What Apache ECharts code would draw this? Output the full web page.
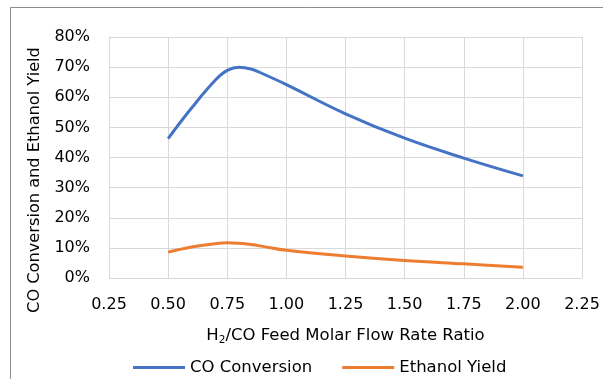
<!DOCTYPE html>
<html>
<head>
<meta charset="utf-8">
<script src="https://cdn.jsdelivr.net/npm/echarts@6/dist/echarts.min.js"></script>
<style>
  html, body { margin: 0; padding: 0; background: #fff; }
  #chart { width: 603px; height: 379px; }
</style>
</head>
<body>
<div id="chart"></div>
<script>
// H2/CO feed ratio and the resulting performance (percent)
const ratios = [0.5, 0.6, 0.7, 0.75, 0.8, 0.85, 0.9, 1.0, 1.25, 1.5, 1.75, 2.0];
const coConversion = [46.3, 56.5, 65.7, 68.9, 70.0, 69.4, 67.8, 64.2, 54.5, 46.4, 39.8, 33.9];
const ethanolYield = [8.6, 10.3, 11.4, 11.7, 11.5, 11.1, 10.5, 9.2, 7.3, 5.8, 4.7, 3.6];
const xTicks = [0.25, 0.5, 0.75, 1.0, 1.25, 1.5, 1.75, 2.0, 2.25];
const yTicks = [0, 10, 20, 30, 40, 50, 60, 70, 80];

const FONT = 'DejaVu Sans';
const gridColor = '#d9d9d9';

const chart = echarts.init(document.getElementById('chart'), null, { renderer: 'canvas' });

chart.setOption({
  animation: false,
  backgroundColor: '#fff',
  grid: { left: 109, right: 21, top: 37, bottom: 101, containLabel: false },
  xAxis: {
    type: 'value',
    min: xTicks[0],
    max: xTicks[xTicks.length - 1],
    interval: 0.25,
    axisLine: { show: true, lineStyle: { color: gridColor, width: 1 } },
    axisTick: { show: false },
    splitLine: { show: true, lineStyle: { color: gridColor, width: 1 } },
    axisLabel: {
      color: '#000', fontFamily: FONT, fontSize: 16, margin: 19,
      formatter: v => v.toFixed(2)
    },
    name: '{n|H}{s|2}{n|/CO Feed Molar Flow Rate Ratio}',
    nameLocation: 'middle',
    nameGap: 48,
    nameTextStyle: {
      rich: {
        n: { fontFamily: FONT, fontSize: 16.5, color: '#000' },
        s: { fontFamily: FONT, fontSize: 10.5, color: '#000', verticalAlign: 'bottom', padding: [9, 0, 0, 0] }
      }
    }
  },
  yAxis: {
    type: 'value',
    min: yTicks[0],
    max: yTicks[yTicks.length - 1],
    interval: 10,
    axisLine: { show: true, lineStyle: { color: gridColor, width: 1 } },
    axisTick: { show: false },
    splitLine: { show: true, lineStyle: { color: gridColor, width: 1 } },
    axisLabel: {
      color: '#000', fontFamily: FONT, fontSize: 16, margin: 19,
      formatter: '{value}%'
    }
  },
  legend: {
    top: 354,
    left: 128,
    itemWidth: 52,
    itemHeight: 3,
    itemGap: 30,
    icon: 'rect',
    textStyle: { fontFamily: FONT, fontSize: 16.5, color: '#000' },
    data: ['CO Conversion', 'Ethanol Yield']
  },
  graphic: [
    {
      type: 'rect',
      silent: true,
      shape: { x: 10.5, y: 7.5, width: 700, height: 500 },
      style: { fill: 'none', stroke: '#8c8c8c', lineWidth: 1 },
      z: -1
    },
    {
      type: 'text',
      silent: true,
      x: 35, y: 180,
      rotation: Math.PI / 2,
      style: {
        text: 'CO Conversion and Ethanol Yield',
        fontFamily: FONT, fontSize: 16.2, fill: '#000',
        align: 'center', verticalAlign: 'middle'
      }
    }
  ],
  series: [
    {
      name: 'CO Conversion',
      type: 'line',
      data: ratios.map((x, i) => [x, coConversion[i]]),
      smooth: 0.4,
      showSymbol: false,
      symbol: 'none',
      lineStyle: { color: '#4472c4', width: 3 },
      itemStyle: { color: '#4472c4' }
    },
    {
      name: 'Ethanol Yield',
      type: 'line',
      data: ratios.map((x, i) => [x, ethanolYield[i]]),
      smooth: 0.4,
      showSymbol: false,
      symbol: 'none',
      lineStyle: { color: '#ed7d31', width: 3 },
      itemStyle: { color: '#ed7d31' }
    }
  ]
});
</script>
</body>
</html>
